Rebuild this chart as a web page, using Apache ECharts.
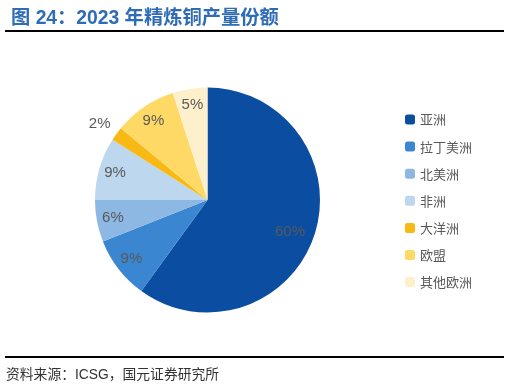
<!DOCTYPE html>
<html><head><meta charset="utf-8">
<script src="https://cdn.jsdelivr.net/npm/echarts@6/dist/echarts.min.js"></script>
<style>html,body{margin:0;padding:0;background:#fff}#c{width:509px;height:387px}</style>
</head><body><div id="c"></div>
<script>
const categories = ['亚洲','拉丁美洲','北美洲','非洲','大洋洲','欧盟','其他欧洲'];
const values = [60, 9, 6, 9, 2, 9, 5];
const colors = ['#0B4DA1','#3A86D0','#8DB8E3','#BDD7EE','#F8B914','#FFD966','#FFF0CD'];
const titleText = '图 24：2023 年精炼铜产量份额';
const sourceText = '资料来源：ICSG，国元证券研究所';

const chart = echarts.init(document.getElementById('c'));
const data = categories.map((n,i)=>({name:n, value:values[i], itemStyle:{color:colors[i]}}));
const labelData = categories.map((n,i)=>{
  const d = {name:n, value:values[i]};
  if (values[i] < 3) d.label = {offset:[-30,-20]};
  if (values[i] > 50) d.label = {offset:[-9,2]};
  return d;
});
chart.setOption({
  animation:false,
  title:{text:titleText, left:6, top:4, textStyle:{fontSize:19.3, fontWeight:'bold', color:'#2E6CB5', fontFamily:'Liberation Sans, Noto Sans CJK SC'}},
  graphic:[
    {type:'line', shape:{x1:5,y1:31,x2:504,y2:31}, style:{stroke:'#000', lineWidth:2}},
    {type:'line', shape:{x1:5,y1:357,x2:504,y2:357}, style:{stroke:'#000', lineWidth:2}},
    {type:'text', left:6, top:368, style:{text:sourceText, fontSize:13.8, fill:'#333', fontFamily:'Liberation Sans, Noto Sans CJK SC'}}
  ],
  legend:{orient:'vertical', left:400, top:108, itemWidth:10, itemHeight:10, itemGap:14.1, itemTextGap:4, icon:'roundRect',
    data:categories,
    textStyle:{fontSize:13, lineHeight:12, color:'#595959', fontFamily:'Noto Sans CJK SC'}},
  series:[
    {type:'pie', center:[207.5,200], radius:[0,112.5], startAngle:90, clockwise:true, data:data,
     label:{show:false}, labelLine:{show:false}, emphasis:{disabled:true}, itemStyle:{borderWidth:0}},
    {type:'pie', center:[207.5,200], radius:[74,112.5], startAngle:90, clockwise:true, data:labelData, silent:true,
     itemStyle:{color:'rgba(0,0,0,0)'}, emphasis:{disabled:true},
     label:{show:true, position:'inside', formatter:'{c}%', fontSize:15, color:'#595959', fontFamily:'Liberation Sans'},
     labelLine:{show:false}}
  ]
});
</script></body></html>
